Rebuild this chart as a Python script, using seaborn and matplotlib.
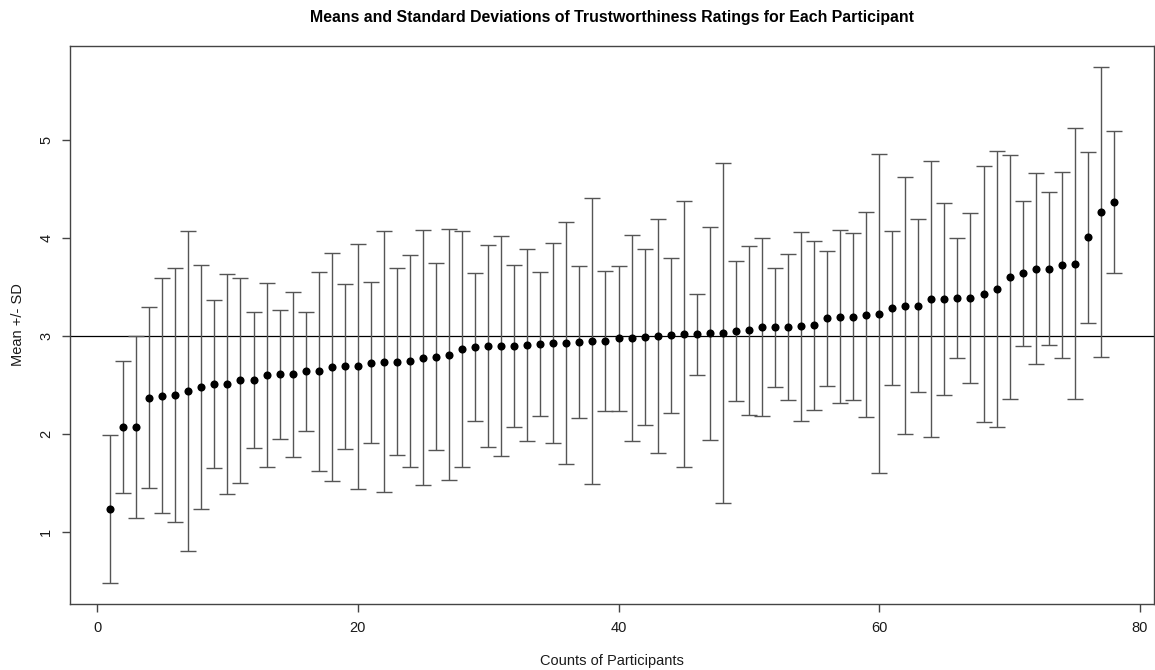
import numpy as np
import pandas as pd
import matplotlib
matplotlib.use("Agg")
import matplotlib.pyplot as plt
import seaborn as sns

# Per-participant mean trustworthiness rating and its standard deviation,
# ordered by mean (participant index 1..78)
participant = list(range(1, 79))
mean_rating = [
    1.23, 2.07, 2.07, 2.37, 2.39, 2.40, 2.44, 2.48, 2.51, 2.51,
    2.55, 2.55, 2.60, 2.61, 2.61, 2.64, 2.64, 2.68, 2.69, 2.69,
    2.73, 2.74, 2.74, 2.75, 2.78, 2.79, 2.81, 2.87, 2.89, 2.90,
    2.90, 2.90, 2.91, 2.92, 2.93, 2.93, 2.94, 2.95, 2.95, 2.98,
    2.98, 2.99, 3.00, 3.01, 3.02, 3.02, 3.03, 3.03, 3.05, 3.06,
    3.09, 3.09, 3.09, 3.10, 3.11, 3.18, 3.20, 3.20, 3.22, 3.23,
    3.29, 3.31, 3.31, 3.38, 3.38, 3.39, 3.39, 3.43, 3.48, 3.60,
    3.64, 3.69, 3.69, 3.73, 3.74, 4.01, 4.27, 4.37,
]
sd_rating = [
    0.757, 0.675, 0.928, 0.923, 1.202, 1.297, 1.633, 1.246, 0.863, 1.122,
    1.048, 0.696, 0.941, 0.657, 0.841, 0.605, 1.018, 1.165, 0.841, 1.249,
    0.822, 1.330, 0.957, 1.083, 1.301, 0.956, 1.284, 1.209, 0.756, 1.031,
    1.127, 0.828, 0.979, 0.739, 1.023, 1.241, 0.776, 1.462, 0.720, 0.741,
    1.053, 0.899, 1.198, 0.793, 1.358, 0.415, 1.088, 1.741, 0.716, 0.862,
    0.908, 0.608, 0.748, 0.964, 0.865, 0.694, 0.886, 0.856, 1.048, 1.632,
    0.787, 1.315, 0.884, 1.410, 0.979, 0.610, 0.869, 1.304, 1.414, 1.247,
    0.741, 0.980, 0.780, 0.949, 1.386, 0.874, 1.484, 0.722,
]
reference_level = 3

title_text = "Means and Standard Deviations of Trustworthiness Ratings for Each Participant"
x_label = "Counts of Participants"
y_label = "Mean +/- SD"
x_ticks = [0, 20, 40, 60, 80]
y_ticks = [1, 2, 3, 4, 5]

df = pd.DataFrame({"participant": participant, "mean": mean_rating, "sd": sd_rating})
df["lower"] = df["mean"] - df["sd"]
df["upper"] = df["mean"] + df["sd"]

sns.set_theme(style="white")
plt.rcParams["font.family"] = ["Liberation Sans", "DejaVu Sans"]

fig = plt.figure(figsize=(11.55, 6.70), dpi=100)
ax = fig.add_axes([70 / 1155, 66 / 670, 1084 / 1155, 558 / 670])

# Error bars: mean +/- one standard deviation
ax.errorbar(df["participant"], df["mean"], yerr=df["sd"], fmt="none",
            ecolor="#555555", elinewidth=1.0, capsize=5.5, capthick=1.0, zorder=2)

# Mean points
sns.scatterplot(data=df, x="participant", y="mean", ax=ax, color="black",
                s=34, edgecolor="black", linewidth=0, zorder=3, legend=False)

# Reference line at the scale midpoint
ax.axhline(reference_level, color="black", linewidth=0.9, zorder=1)

# Axis ranges padded by 4% of the data range on each side
x_min, x_max = df["participant"].min(), df["participant"].max()
y_min, y_max = df["lower"].min(), df["upper"].max()
x_pad = 0.04 * (x_max - x_min)
y_pad = 0.04 * (y_max - y_min)
ax.set_xlim(x_min - x_pad, x_max + x_pad)
ax.set_ylim(y_min - y_pad, y_max + y_pad)

text_color = "#1a1a1a"
ax.set_xticks(x_ticks)
ax.set_yticks(y_ticks)
ax.set_xticklabels([str(t) for t in x_ticks], fontsize=10.5, color=text_color)
ax.set_yticklabels([str(t) for t in y_ticks], fontsize=10.5, color=text_color,
                   rotation=90, va="center")
ax.tick_params(axis="both", which="major", direction="out", length=6, width=1.0,
               color="#444444", bottom=True, left=True, pad=6)

for side in ["top", "right", "bottom", "left"]:
    ax.spines[side].set_visible(True)
    ax.spines[side].set_color("#444444")
    ax.spines[side].set_linewidth(1.0)

ax.set_xlabel(x_label, fontsize=10.5, color=text_color, labelpad=14)
ax.set_ylabel(y_label, fontsize=10.5, color=text_color, labelpad=10)
ax.set_title(title_text, fontsize=11.4, fontweight="bold", color="black", pad=17)

fig.savefig("out.png", dpi=100, facecolor="white")
